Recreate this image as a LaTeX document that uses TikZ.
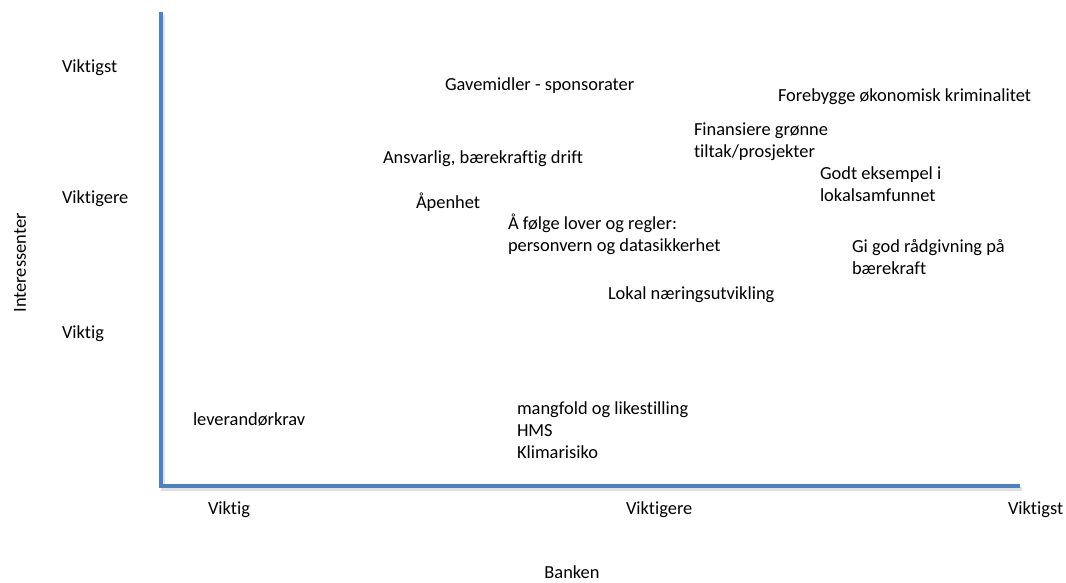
\documentclass[tikz,border=0pt]{standalone}
\usepackage{fontspec}
\setmainfont[Ligatures=NoCommon]{Carlito}
\usepackage{xcolor}
\usetikzlibrary{positioning}
\definecolor{axisblue}{RGB}{79,129,189}

\begin{document}
\begin{tikzpicture}[x=0.025cm, y=-0.025cm,
    every node/.style={font=\fontsize{13.1}{15.6}\selectfont, inner sep=0pt, outer sep=0pt},
    lbl/.style={anchor=west, align=left},
    axis/.style={axisblue, line width=3pt}]
                    \useasboundingbox (0,0) rectangle (1066,583);
                    % Corners of the axes
                    \coordinate (ytop) at (161,12);
                    \coordinate (origin) at (161,486);
                    \coordinate (xend) at (1020,486);

                    % Axes with a faint shadow
                    \draw[black!12, line width=3pt] ([shift={(2,3)}]ytop) -- ([shift={(2,3)}]origin) -- ([shift={(2,3)}]xend);
                    \draw[axis] (ytop) -- (origin) -- (xend);

                    % Levels on the axis of Interessenter
                    \node[lbl] (yhigh) at (62,68) {Viktigst};
                    \node[lbl] (ymid) at (62,199) {Viktigere};
                    \node[lbl] (ylow) at (62,334) {Viktig};
                    \node[rotate=90] (ytitle) at (20,263) {Interessenter};

                    % Levels on the axis of Banken
                    \node[lbl] (xlow) at (208,510) {Viktig};
                    \node[lbl] (xmid) at (626,510) {Viktigere};
                    \node[lbl] (xhigh) at (1008,510) {Viktigst};
                    \node (xtitle) at (572,572) {Banken};

                    % Topics in the matrix
                    \node[lbl] (gave) at (445,86) {Gavemidler - sponsorater};
                    \node[lbl] (krim) at (778,97) {Forebygge økonomisk kriminalitet};
                    \node[lbl] (gronn) at (694,142) {Finansiere grønne\\tiltak/prosjekter};
                    \node[lbl] (drift) at (383,159) {Ansvarlig, bærekraftig drift};
                    \node[lbl] (eksempel) at (820,184) {Godt eksempel i\\lokalsamfunnet};
                    \node[lbl] (apen) at (416,202) {Åpenhet};
                    \node[lbl] (lover) at (508,234) {Å følge lover og regler:\\personvern og datasikkerhet};
                    \node[lbl] (raad) at (852,257) {Gi god rådgivning på\\bærekraft};
                    \node[lbl] (lokal) at (608,295) {Lokal næringsutvikling};
                    \node[lbl] (lev) at (193,419) {leverandørkrav};
                    \node[lbl] (mangfold) at (517,430) {mangfold og likestilling\\HMS\\Klimarisiko};
                \end{tikzpicture}
\end{document}
